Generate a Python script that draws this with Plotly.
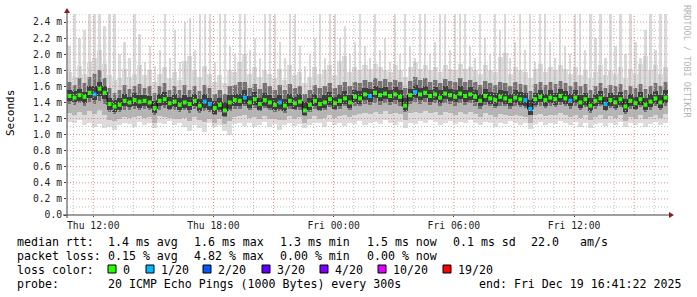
import pandas as pd
import plotly.graph_objects as go

# ---------------- data (ms) ----------------
start = pd.Timestamp("2025-12-18 10:41:22")
end = pd.Timestamp("2025-12-19 16:41:22")
step_min = 15

median = [1.48,1.46,1.49,1.47,1.52,1.50,1.57,1.52,1.38,1.35,
          1.37,1.42,1.40,1.43,1.41,1.42,1.40,1.33,1.42,1.44,
          1.39,1.41,1.37,1.40,1.38,1.42,1.36,1.41,1.38,1.33,
          1.37,1.30,1.40,1.43,1.42,1.46,1.40,1.44,1.38,1.43,
          1.40,1.37,1.40,1.36,1.42,1.39,1.41,1.30,1.37,1.42,
          1.38,1.40,1.44,1.39,1.42,1.45,1.40,1.47,1.45,1.50,
          1.48,1.52,1.49,1.51,1.48,1.50,1.47,1.36,1.49,1.53,
          1.50,1.52,1.48,1.50,1.46,1.51,1.49,1.47,1.51,1.48,
          1.50,1.47,1.42,1.48,1.45,1.43,1.47,1.45,1.42,1.46,
          1.44,1.43,1.32,1.44,1.47,1.43,1.46,1.44,1.48,1.45,
          1.42,1.46,1.40,1.44,1.36,1.42,1.45,1.38,1.43,1.40,
          1.44,1.35,1.42,1.39,1.44,1.37,1.41,1.45,1.40,1.46]

loss = [0]*120
for _i in [5, 27, 28, 35, 42, 60, 69, 91, 92, 100, 107]:
    loss[_i] = 1

ping_min = [1.16,1.14,1.18,1.12,1.15,1.10,1.13,1.08,1.10,1.06,
            1.12,1.15,1.13,1.10,1.16,1.12,1.14,1.08,1.15,1.13,
            1.17,1.12,1.14,1.10,1.05,1.12,1.08,1.03,1.14,1.10,
            1.12,1.04,1.00,1.13,1.15,1.11,1.14,1.09,1.12,1.16,
            1.10,1.13,1.06,1.12,1.15,1.11,1.13,1.08,1.12,1.15,
            1.14,1.10,1.16,1.12,1.14,1.11,1.15,1.13,1.17,1.12,
            1.15,1.16,1.13,1.18,1.14,1.12,1.16,1.08,1.15,1.13,
            1.17,1.14,1.18,1.16,1.12,1.15,1.17,1.13,1.16,1.14,
            1.18,1.15,1.12,1.16,1.14,1.10,1.15,1.13,1.17,1.14,
            1.12,1.15,1.07,1.13,1.16,1.12,1.15,1.13,1.17,1.14,
            1.12,1.16,1.10,1.14,1.08,1.13,1.15,1.11,1.14,1.12,
            1.16,1.09,1.14,1.12,1.15,1.10,1.13,1.16,1.12,1.15]

ping_lo2 = [1.27,1.24,1.28,1.25,1.29,1.26,1.30,1.25,1.18,1.17,
            1.19,1.22,1.21,1.22,1.23,1.21,1.22,1.15,1.23,1.22,
            1.21,1.20,1.19,1.21,1.17,1.22,1.18,1.16,1.20,1.15,
            1.19,1.13,1.17,1.22,1.23,1.24,1.21,1.22,1.19,1.23,
            1.20,1.19,1.18,1.18,1.23,1.20,1.22,1.14,1.19,1.23,
            1.20,1.21,1.24,1.21,1.23,1.24,1.22,1.25,1.26,1.27,
            1.26,1.28,1.26,1.29,1.26,1.27,1.26,1.18,1.27,1.28,
            1.27,1.29,1.27,1.28,1.24,1.28,1.27,1.25,1.28,1.26,
            1.28,1.26,1.22,1.27,1.25,1.22,1.26,1.24,1.23,1.25,
            1.23,1.22,1.15,1.24,1.26,1.23,1.25,1.24,1.27,1.25,
            1.22,1.25,1.21,1.24,1.18,1.22,1.25,1.20,1.23,1.21,
            1.24,1.17,1.22,1.20,1.24,1.19,1.22,1.25,1.21,1.26]

ping_lo1 = [1.38,1.37,1.39,1.36,1.41,1.38,1.42,1.38,1.28,1.26,
            1.28,1.31,1.30,1.32,1.31,1.32,1.30,1.25,1.31,1.33,
            1.30,1.31,1.28,1.30,1.27,1.32,1.27,1.29,1.28,1.25,
            1.28,1.22,1.29,1.32,1.32,1.35,1.30,1.33,1.29,1.33,
            1.30,1.28,1.29,1.27,1.32,1.30,1.31,1.23,1.28,1.32,
            1.29,1.30,1.34,1.30,1.32,1.35,1.31,1.36,1.36,1.38,
            1.37,1.39,1.37,1.39,1.37,1.38,1.36,1.28,1.38,1.40,
            1.38,1.40,1.37,1.39,1.35,1.39,1.38,1.36,1.39,1.37,
            1.39,1.36,1.32,1.37,1.35,1.33,1.36,1.35,1.32,1.35,
            1.34,1.33,1.24,1.34,1.36,1.33,1.35,1.34,1.37,1.35,
            1.32,1.35,1.30,1.34,1.27,1.32,1.35,1.29,1.33,1.30,
            1.34,1.26,1.32,1.30,1.34,1.28,1.31,1.35,1.30,1.36]

core_lo = [1.42,1.40,1.42,1.39,1.45,1.43,1.48,1.44,1.31,1.28,
           1.31,1.35,1.34,1.36,1.33,1.36,1.33,1.27,1.35,1.37,
           1.32,1.34,1.30,1.33,1.30,1.35,1.29,1.33,1.31,1.26,
           1.30,1.23,1.32,1.36,1.35,1.38,1.33,1.37,1.31,1.36,
           1.33,1.30,1.32,1.29,1.35,1.32,1.34,1.24,1.30,1.35,
           1.31,1.33,1.37,1.32,1.35,1.38,1.33,1.40,1.38,1.43,
           1.41,1.45,1.42,1.44,1.41,1.43,1.40,1.29,1.42,1.46,
           1.43,1.45,1.41,1.43,1.39,1.44,1.42,1.40,1.44,1.41,
           1.43,1.40,1.35,1.41,1.38,1.36,1.40,1.38,1.35,1.39,
           1.37,1.36,1.25,1.37,1.40,1.36,1.39,1.37,1.41,1.38,
           1.35,1.39,1.33,1.37,1.29,1.35,1.38,1.31,1.36,1.33,
           1.37,1.28,1.35,1.32,1.37,1.30,1.34,1.38,1.33,1.39]

core_hi = [1.55,1.54,1.57,1.53,1.60,1.60,1.66,1.60,1.46,1.43,
           1.45,1.50,1.47,1.52,1.49,1.49,1.48,1.42,1.50,1.53,
           1.47,1.50,1.45,1.49,1.47,1.50,1.44,1.51,1.46,1.42,
           1.46,1.40,1.49,1.51,1.51,1.55,1.48,1.53,1.46,1.52,
           1.49,1.45,1.49,1.44,1.51,1.47,1.50,1.40,1.45,1.51,
           1.46,1.49,1.53,1.47,1.51,1.54,1.49,1.56,1.54,1.58,
           1.57,1.60,1.58,1.59,1.56,1.59,1.55,1.46,1.57,1.62,
           1.58,1.61,1.56,1.59,1.55,1.60,1.57,1.56,1.60,1.56,
           1.59,1.55,1.51,1.57,1.53,1.52,1.56,1.54,1.50,1.55,
           1.53,1.52,1.43,1.52,1.56,1.51,1.55,1.52,1.57,1.54,
           1.51,1.55,1.49,1.52,1.45,1.50,1.54,1.47,1.52,1.49,
           1.53,1.44,1.51,1.47,1.53,1.46,1.50,1.54,1.49,1.55]

ping_hi1 = [1.66,1.62,1.70,1.64,1.72,1.75,1.80,1.70,1.58,1.52,
            1.55,1.62,1.57,1.60,1.63,1.58,1.61,1.52,1.60,1.64,
            1.56,1.60,1.55,1.62,1.56,1.60,1.54,1.62,1.58,1.50,
            1.56,1.50,1.60,1.62,1.65,1.66,1.58,1.63,1.57,1.64,
            1.60,1.56,1.62,1.55,1.63,1.58,1.61,1.50,1.56,1.62,
            1.58,1.60,1.64,1.58,1.62,1.65,1.60,1.66,1.64,1.68,
            1.66,1.70,1.67,1.69,1.66,1.68,1.65,1.58,1.67,1.72,
            1.68,1.70,1.66,1.68,1.64,1.69,1.67,1.65,1.70,1.66,
            1.68,1.66,1.62,1.67,1.64,1.62,1.66,1.64,1.61,1.65,
            1.63,1.62,1.54,1.63,1.66,1.62,1.65,1.63,1.67,1.64,
            1.61,1.65,1.60,1.63,1.56,1.61,1.64,1.58,1.62,1.60,
            1.63,1.55,1.61,1.58,1.63,1.57,1.60,1.64,1.60,1.65]

ping_hi2 = [1.78,1.72,1.85,1.76,1.90,1.95,2.05,1.88,1.74,1.68,
            1.70,1.82,1.72,1.76,1.86,1.74,1.80,1.66,1.75,1.84,
            1.70,1.78,1.68,1.92,1.98,1.80,1.72,1.85,1.76,1.66,
            1.74,1.64,1.80,1.78,1.90,2.00,1.75,1.84,1.72,1.80,
            1.76,1.70,1.82,1.68,1.86,1.74,1.78,1.64,1.72,1.84,
            1.76,1.80,1.86,1.74,1.92,1.98,1.78,1.84,1.80,1.86,
            1.82,1.88,1.84,1.80,1.78,1.86,1.80,1.72,1.84,1.90,
            1.82,1.86,1.80,1.84,1.78,1.86,1.82,1.80,1.88,1.82,
            1.84,1.80,1.76,1.86,1.80,1.78,1.96,2.02,1.76,1.84,
            1.80,1.78,1.70,1.82,1.88,1.78,1.84,1.80,1.86,1.82,
            1.76,1.84,1.74,1.80,1.70,1.78,1.86,1.74,1.80,1.76,
            1.84,1.70,1.82,1.76,1.88,1.98,1.80,1.86,1.76,1.84]

ping_max = [2.10,2.50,2.20,2.30,2.50,2.50,2.50,2.35,2.50,2.50,
            2.00,2.15,1.95,2.50,2.25,1.90,2.10,1.85,2.05,2.50,
            1.95,2.30,1.90,2.40,2.45,2.05,2.50,2.50,2.50,1.90,
            2.50,2.50,2.10,2.00,2.50,2.50,2.05,2.20,1.95,2.50,
            2.50,2.50,2.15,1.95,2.50,2.50,2.10,1.85,2.00,2.20,
            2.50,1.95,2.50,2.50,2.20,2.35,2.00,2.15,2.50,2.10,
            1.95,2.50,2.05,2.20,1.90,2.50,2.00,2.50,2.10,1.95,
            2.50,2.50,2.00,2.15,2.50,2.50,2.05,2.50,2.50,2.50,
            2.10,1.95,2.50,2.20,2.00,2.50,2.30,2.50,1.95,2.15,
            2.50,2.05,2.50,1.90,2.50,2.50,2.15,1.95,2.50,2.10,
            2.00,2.50,2.50,2.05,2.50,2.20,2.50,1.95,2.50,2.10,
            2.50,2.00,2.50,2.15,1.95,2.30,2.50,2.05,2.50,2.50]

y_ticks = [0.0,0.2,0.4,0.6,0.8,1.0,1.2,1.4,1.6,1.8,2.0,2.2,2.4]
y_ticktext = ["0.0","0.2 m","0.4 m","0.6 m","0.8 m","1.0 m","1.2 m",
              "1.4 m","1.6 m","1.8 m","2.0 m","2.2 m","2.4 m"]
y_minor = [0.1,0.3,0.5,0.7,0.9,1.1,1.3,1.5,1.7,1.9,2.1,2.3,2.5]
x_labels = ["2025-12-18 12:00","2025-12-18 18:00","2025-12-19 00:00",
            "2025-12-19 06:00","2025-12-19 12:00"]
x_labeltext = ["Thu 12:00","Thu 18:00","Fri 00:00","Fri 06:00","Fri 12:00"]
x_major = ["2025-12-18 12:00","2025-12-18 15:00","2025-12-18 18:00",
           "2025-12-18 21:00","2025-12-19 00:00","2025-12-19 03:00",
           "2025-12-19 06:00","2025-12-19 09:00","2025-12-19 12:00",
           "2025-12-19 15:00"]

loss_names = ["0","1/20","2/20","3/20","4/20","10/20","19/20"]
loss_colors = ["#26ff00","#00b8ff","#0059ff","#5e00ff","#7e00ff","#dd00ff","#ff0000"]

legend_line1 = [("median rtt:",16),("1.4 ms avg",107),("1.6 ms max",193),
                ("1.3 ms min",279),("1.5 ms now",365.5),("0.1 ms sd",451.5),
                ("22.0",530),("am/s",579)]
legend_line2 = [("packet loss:",16),("0.15 % avg",107),("4.82 % max",193),
                ("0.00 % min",279),("0.00 % now",365.5)]
legend_line4 = [("probe:",16),("20 ICMP Echo Pings (1000 Bytes) every 300s",107),
                ("end: Fri Dec 19 16:41:22 2025",478)]
legend_box_x = [108,146,203,262,320,378,443]

# ---------------- geometry helpers ----------------
W, H = 697, 297
L, R, T, B = 67, 668, 14, 215
def px(x):
    return (x - L) / (R - L)
def py(y):
    return (B - y) / (B - T)

n = len(median)
times = pd.date_range(start + pd.Timedelta(minutes=step_min / 2), periods=n,
                      freq=f"{step_min}min")
step_ms = step_min * 60 * 1000

fig = go.Figure()

def band(lo, hi, color, wfrac):
    fig.add_trace(go.Bar(x=times, y=[h - l for l, h in zip(lo, hi)], base=lo,
                         width=step_ms * wfrac, marker=dict(color=color, line=dict(width=0)),
                         hoverinfo="skip"))

band(ping_min, ping_hi2, "#dcdcdc", 1.0)
band(ping_hi2, ping_max, "#dadada", 0.45)
band(ping_lo2, ping_hi2, "#c8c8c8", 0.4)
band(ping_lo2, ping_hi1, "#b4b4b4", 1.0)
band(ping_lo1, ping_hi1, "#747474", 0.7)
band(core_lo, core_hi, "#3e3e3e", 1.0)

fig.add_trace(go.Scatter(x=times, y=median, mode="lines",
                         line=dict(shape="hvh", width=1.5, color="#1a1a1a"),
                         hoverinfo="skip"))
for lv in sorted(set(loss)):
    xs = [t for t, l in zip(times, loss) if l == lv]
    ys = [m for m, l in zip(median, loss) if l == lv]
    fig.add_trace(go.Scatter(x=xs, y=ys, mode="markers",
                             marker=dict(symbol="square", size=4, color=loss_colors[lv],
                                         line=dict(width=0)),
                             hoverinfo="skip"))

shapes = []
dash = "1px,2px"
for v in y_minor:
    shapes.append(dict(type="line", xref="paper", yref="y", x0=0, x1=1, y0=v, y1=v,
                       line=dict(color="#bdbdbd", width=1, dash=dash), layer="above"))
for v in y_ticks[1:]:
    shapes.append(dict(type="line", xref="paper", yref="y", x0=0, x1=1, y0=v, y1=v,
                       line=dict(color="#e08a8a", width=1, dash=dash), layer="above"))
hours = pd.date_range("2025-12-18 11:00", "2025-12-19 16:00", freq="1h")
major_set = set(pd.to_datetime(x_major))
for h in hours:
    if h in major_set:
        continue
    shapes.append(dict(type="line", xref="x", yref="paper", x0=h, x1=h, y0=0, y1=1,
                       line=dict(color="#bdbdbd", width=1, dash=dash), layer="above"))
for h in x_major:
    shapes.append(dict(type="line", xref="x", yref="paper", x0=h, x1=h, y0=0, y1=1,
                       line=dict(color="#e08a8a", width=1, dash=dash), layer="above"))
axis_col = "#404040"
shapes.append(dict(type="line", xref="paper", yref="paper", x0=px(67), x1=px(67),
                   y0=py(218), y1=py(11), line=dict(color=axis_col, width=1), layer="above"))
shapes.append(dict(type="line", xref="paper", yref="paper", x0=px(63), x1=px(670),
                   y0=py(215), y1=py(215), line=dict(color=axis_col, width=1), layer="above"))
arrow_col = "#8b1a1a"
shapes.append(dict(type="path", xref="paper", yref="paper",
                   path=f"M {px(64)} {py(13)} L {px(70)} {py(13)} L {px(67)} {py(8)} Z",
                   fillcolor=arrow_col, line=dict(width=0), layer="above"))
shapes.append(dict(type="path", xref="paper", yref="paper",
                   path=f"M {px(669)} {py(212)} L {px(669)} {py(218)} L {px(674)} {py(215)} Z",
                   fillcolor=arrow_col, line=dict(width=0), layer="above"))

mono = "DejaVu Sans Mono"
anns = []
def text_at(txt, x, y, size=11.6, color="#000000", angle=0, xanchor="left"):
    anns.append(dict(text=txt, x=px(x), y=py(y), xref="paper", yref="paper",
                     showarrow=False, xanchor=xanchor, yanchor="middle",
                     textangle=angle, borderpad=0,
                     font=dict(family=mono, size=size, color=color)))

for t, x in legend_line1:
    text_at(t, x, 241.5)
for t, x in legend_line2:
    text_at(t, x, 255.5)
text_at("loss color:", 16, 269.5)
for name, col, bx in zip(loss_names, loss_colors, legend_box_x):
    shapes.append(dict(type="rect", xref="paper", yref="paper",
                       x0=px(bx), x1=px(bx + 8), y0=py(273), y1=py(265),
                       fillcolor=col, line=dict(color="#000000", width=1), layer="above"))
    text_at(name, bx + 14, 269.5)
for t, x in legend_line4:
    text_at(t, x, 283.5)

text_at("Seconds", 10, 113, size=11, angle=-90, xanchor="center")
text_at("RRDTOOL / TOBI OETIKER", 687, 61, size=8.5, color="#b4b4b4", angle=90,
        xanchor="center")

fig.update_layout(
    width=W, height=H, margin=dict(l=L, r=W - R, t=T, b=H - B),
    paper_bgcolor="white", plot_bgcolor="white", showlegend=False,
    barmode="overlay", bargap=0, shapes=shapes, annotations=anns,
    xaxis=dict(type="date", range=[start, end], showgrid=False, zeroline=False,
               showline=False, tickvals=x_labels, ticktext=x_labeltext,
               ticks="outside", ticklen=1, tickcolor=axis_col,
               tickfont=dict(family=mono, size=9.7, color="#222222")),
    yaxis=dict(range=[0, 2.5], showgrid=False, zeroline=False, showline=False,
               tickvals=y_ticks, ticktext=y_ticktext, ticks="outside", ticklen=2,
               tickcolor=axis_col, tickfont=dict(family=mono, size=9.7, color="#222222")),
)

fig.write_html("out.html")
